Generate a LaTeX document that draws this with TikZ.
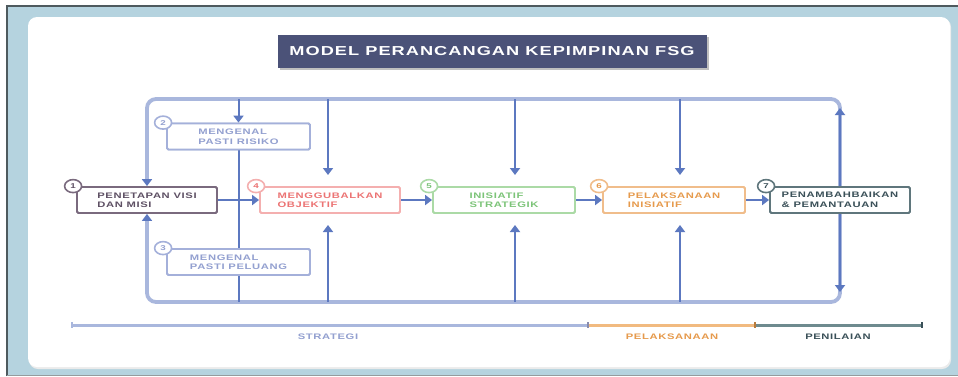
\documentclass[tikz,border=0pt]{standalone}
\usepackage{fontspec}
\setmainfont{Liberation Sans}
\newfontfamily\boxfont[FakeStretch=1.4,LetterSpace=8]{Liberation Sans}
\usetikzlibrary{arrows.meta,shapes.geometric}
\definecolor{framebg}{HTML}{B5D3DF}
\definecolor{framedark}{HTML}{4E5A5E}
\definecolor{titlebg}{HTML}{4B5278}
\definecolor{loopblue}{HTML}{A9B7DD}
\definecolor{arrowblue}{HTML}{5C78C0}
\definecolor{cA}{HTML}{7A6A7E}
\definecolor{tA}{HTML}{5E5064}
\definecolor{cB}{HTML}{A4B0DA}
\definecolor{tB}{HTML}{93A0D0}
\definecolor{cD}{HTML}{F4AFAF}
\definecolor{tD}{HTML}{EC7474}
\definecolor{cE}{HTML}{ABDAA6}
\definecolor{tE}{HTML}{7CC478}
\definecolor{cF}{HTML}{F0BD8B}
\definecolor{tF}{HTML}{E69A4C}
\definecolor{cG}{HTML}{5F767C}
\definecolor{tG}{HTML}{3A5058}
\definecolor{lineorange}{HTML}{F1BA80}
\definecolor{linedark}{HTML}{6E8A8E}
\tikzset{
  stepbox/.style={draw, line width=1.8pt, fill=white, rounded corners=1.5pt,
    minimum width=140pt, minimum height=26pt, inner sep=2pt, align=left,
    font=\boxfont\bfseries\fontsize{8}{9.5}\selectfont},
  numc/.style={ellipse, draw, line width=1.6pt, fill=white, minimum width=17pt,
    minimum height=13pt, inner sep=0pt, font=\boxfont\bfseries\fontsize{7}{7}\selectfont},
  arr/.style={draw=arrowblue, line width=2pt, -{Triangle[width=10pt,length=7pt]}},
  plainline/.style={draw=arrowblue, line width=2pt},
  loopline/.style={draw=loopblue, line width=3.8pt},
  tl/.style={line width=3pt},
  tick/.style={line width=1.8pt},
  tlab/.style={font=\boxfont\bfseries\fontsize{8}{8}\selectfont}
}
\begin{document}
\begin{tikzpicture}[x=1pt,y=-1pt]
\useasboundingbox (0,0) rectangle (958,376);
\fill[white] (0,0) rectangle (958,376);
\fill[framebg] (7,6) rectangle (958,376);
\draw[framedark, line width=2pt] (7,376) -- (7,6) -- (958,6);
\draw[framedark!60, line width=1pt] (7,375) -- (958,375);
\fill[black!8, rounded corners=9pt] (29,18) rectangle (951,369);
\fill[white, rounded corners=9pt] (28,17) rectangle (950,367);

% title
\fill[black!25] (280,37) rectangle (709,70);
\node[fill=titlebg, text=white, minimum width=429pt, minimum height=33pt, inner sep=0pt,
  font=\boxfont\bfseries\fontsize{13}{13}\selectfont] (title) at (492,51.5)
  {MODEL PERANCANGAN KEPIMPINAN FSG};

% coordinates
\coordinate (tl) at (147,99);
\coordinate (tr) at (840,99);
\coordinate (br) at (840,302);
\coordinate (bl) at (147,302);
\coordinate (t2) at (238.5,99);
\coordinate (u2) at (238.5,302);
\coordinate (t4) at (328,99);
\coordinate (h4) at (328,175);
\coordinate (u4) at (328,302);
\coordinate (k4) at (328,225);
\coordinate (t5) at (515,99);
\coordinate (h5) at (515,175);
\coordinate (u5) at (515,302);
\coordinate (k5) at (515,225);
\coordinate (t6) at (680,99);
\coordinate (h6) at (680,175);
\coordinate (u6) at (680,302);
\coordinate (k6) at (680,225);
\coordinate (e7a) at (840,108);
\coordinate (e7b) at (840,292);

% nodes placed first (for anchors)
\path
  (147,200) node[stepbox, draw=cA, text=tA] (b1) {PENETAPAN VISI\\DAN MISI}
  (238.5,136.5) node[stepbox, minimum width=143pt, draw=cB, text=tB] (b2) {MENGENAL\\PASTI RISIKO}
  (238.5,262) node[stepbox, minimum width=143pt, draw=cB, text=tB] (b3) {MENGENAL\\PASTI PELUANG}
  (330,200) node[stepbox, draw=cD, text=tD] (b4) {MENGGUBALKAN\\OBJEKTIF}
  (504,200) node[stepbox, minimum width=142pt, draw=cE, text=tE] (b5) {INISIATIF\\STRATEGIK}
  (674,200) node[stepbox, minimum width=142pt, draw=cF, text=tF] (b6) {PELAKSANAAN\\INISIATIF}
  (840,200) node[stepbox, draw=cG, text=tG] (b7) {PENAMBAHBAIKAN\\\& PEMANTAUAN};

% loop
\draw[loopline, rounded corners=9pt,
  {Triangle[width=10pt,length=7pt,color=arrowblue]}-{Triangle[width=10pt,length=7pt,color=arrowblue]}]
  (b1.north) -- (tl) -- (tr) -- (br) -- (bl) -- (b1.south);

% verticals
\draw[arr] (t2) -- (b2.north);
\draw[plainline] (b2.south) -- (b3.north);
\draw[plainline] (b3.south) -- (u2);
\draw[arr] (t4) -- (h4);
\draw[arr] (u4) -- (k4);
\draw[arr] (t5) -- (h5);
\draw[arr] (u5) -- (k5);
\draw[arr] (t6) -- (h6);
\draw[arr] (u6) -- (k6);
\draw[arr] (b7.north) -- (e7a);
\draw[arr] (b7.south) -- (e7b);

% horizontals
\draw[arr] (b1.east) -- (b4.west);
\draw[arr] (b4.east) -- (b5.west);
\draw[arr] (b5.east) -- (b6.west);
\draw[arr] (b6.east) -- (b7.west);

% boxes on top
\path
  (147,200) node[stepbox, draw=cA, text=tA] {PENETAPAN VISI\\DAN MISI}
  (238.5,136.5) node[stepbox, minimum width=143pt, draw=cB, text=tB] {MENGENAL\\PASTI RISIKO}
  (238.5,262) node[stepbox, minimum width=143pt, draw=cB, text=tB] {MENGENAL\\PASTI PELUANG}
  (330,200) node[stepbox, draw=cD, text=tD] {MENGGUBALKAN\\OBJEKTIF}
  (504,200) node[stepbox, minimum width=142pt, draw=cE, text=tE] {INISIATIF\\STRATEGIK}
  (674,200) node[stepbox, minimum width=142pt, draw=cF, text=tF] {PELAKSANAAN\\INISIATIF}
  (840,200) node[stepbox, draw=cG, text=tG] {PENAMBAHBAIKAN\\\& PEMANTAUAN};

% number circles
\node[numc, draw=cA, text=tA] (n1) at ([xshift=-3pt]b1.north west) {1};
\node[numc, draw=cB, text=tB] (n2) at ([xshift=-3pt]b2.north west) {2};
\node[numc, draw=cB, text=tB] (n3) at ([xshift=-3pt]b3.north west) {3};
\node[numc, draw=cD, text=tD] (n4) at ([xshift=-3pt]b4.north west) {4};
\node[numc, draw=cE, text=tE] (n5) at ([xshift=-3pt]b5.north west) {5};
\node[numc, draw=cF, text=tF] (n6) at ([xshift=-3pt]b6.north west) {6};
\node[numc, draw=cG, text=tG] (n7) at ([xshift=-3pt]b7.north west) {7};

% timeline
\coordinate (s0) at (72,325);
\coordinate (s1) at (588,325);
\coordinate (s2) at (755,325);
\coordinate (s3) at (922,325);
\draw[tl, loopblue] (s0) -- (s1);
\draw[tl, lineorange] (s1) -- (s2);
\draw[tl, linedark] (s2) -- (s3);
\draw[tick, loopblue] ([yshift=3pt]s0) -- ([yshift=-3pt]s0);
\draw[tick, arrowblue!70!lineorange] ([yshift=3pt]s1) -- ([yshift=-3pt]s1);
\draw[tick, tF!80!black] ([yshift=3pt]s2) -- ([yshift=-3pt]s2);
\draw[tick, tG] ([yshift=3pt]s3) -- ([yshift=-3pt]s3);
\node[tlab, text=tB] (l1) at (328,337) {STRATEGI};
\node[tlab, text=tF] (l2) at (672,337) {PELAKSANAAN};
\node[tlab, text=tG] (l3) at (838,337) {PENILAIAN};
\end{tikzpicture}
\end{document}
